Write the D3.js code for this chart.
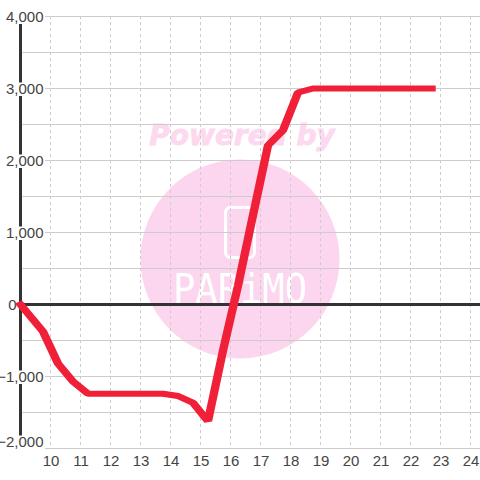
<!DOCTYPE html>
<html>
<head>
<meta charset="utf-8">
<script src="https://cdn.jsdelivr.net/npm/d3@7"></script>
<style>
html, body { margin: 0; padding: 0; background: #fff; }
svg { display: block; }
text { font-family: "Liberation Sans", sans-serif; }
</style>
</head>
<body>
<div id="chart"></div>
<script>
var hours = [9, 9.75, 10.25, 10.75, 11.25, 11.75, 12.25, 12.75, 13.25, 13.75, 14.25, 14.75, 15.25, 15.75, 16.25, 16.75, 17.25, 17.75, 18.25, 18.75, 19.25, 19.75, 20.25, 20.75, 21.25, 21.75, 22.25, 22.7];
var values = [0, -375, -820, -1070, -1240, -1240, -1240, -1240, -1240, -1240, -1270, -1365, -1620, -640, 260, 1240, 2210, 2420, 2945, 3000, 3000, 3000, 3000, 3000, 3000, 3000, 3000, 3000];
var xTicks = [10, 11, 12, 13, 14, 15, 16, 17, 18, 19, 20, 21, 22, 23, 24];
var yLabels = [4000, 3000, 2000, 1000, 0, -1000, -2000];
var yGrid = [4000, 3500, 3000, 2500, 2000, 1500, 1000, 500, -500, -1000, -1500, -2000];

var width = 480, height = 480;
// the line's stroke is wider across than it is tall in the picture
var stretch = 1.4;

var x = d3.scaleLinear().domain([10, 24]).range([50.5, 470.5]);
var y = d3.scaleLinear().domain([-2000, 4000]).range([448.5, 16.5]);

var svg = d3.select('#chart').append('svg')
  .attr('width', width)
  .attr('height', height);

// watermark sits under the grid
var mark = svg.append('g');
mark.append('circle')
  .attr('cx', 240).attr('cy', 259).attr('r', 99.5)
  .attr('fill', '#fcd5ee');
mark.append('text')
  .attr('x', 242).attr('y', 145)
  .attr('text-anchor', 'middle')
  .style('font-family', '"DejaVu Sans", sans-serif')
  .style('font-weight', 'bold')
  .style('font-style', 'italic')
  .style('font-size', '28px')
  .attr('fill', '#fcd9ef')
  .attr('stroke', '#fcd9ef')
  .attr('stroke-width', 0.8)
  .text('Powered by');
mark.append('rect')
  .attr('x', 225.5).attr('y', 207.5).attr('width', 29).attr('height', 50).attr('rx', 5)
  .attr('fill', 'none').attr('stroke', '#fff').attr('stroke-width', 3);
mark.append('text')
  .attr('x', 173).attr('y', 303)
  .attr('textLength', 134)
  .attr('lengthAdjust', 'spacingAndGlyphs')
  .style('font-family', '"DejaVu Sans Mono", monospace')
  .style('font-size', '40px')
  .attr('fill', '#fff')
  .text('PARiMO');

// grid
svg.append('g').selectAll('line')
  .data(xTicks)
  .enter()
  .append('line')
  .attr('x1', d => x(d)).attr('x2', d => x(d))
  .attr('y1', 16).attr('y2', 448)
  .attr('stroke', '#ccc')
  .attr('stroke-dasharray', '3,3');

svg.append('g').selectAll('line')
  .data(yGrid)
  .enter()
  .append('line')
  .attr('x1', 20).attr('x2', width)
  .attr('y1', d => y(d)).attr('y2', d => y(d))
  .attr('stroke', '#ccc');

// axis lines
svg.append('line')
  .attr('x1', 20.5).attr('x2', 20.5)
  .attr('y1', 16).attr('y2', 448)
  .attr('stroke', '#333').attr('stroke-width', 3);
svg.append('line')
  .attr('x1', 20).attr('x2', width)
  .attr('y1', y(0)).attr('y2', y(0))
  .attr('stroke', '#333').attr('stroke-width', 3);

// y labels have a white box behind them that cuts the axis
// bottom label gets pushed up so it stays above the x labels
var labelY = d => d === -2000 ? y(d) - 7 : y(d);

var yLab = svg.append('g').selectAll('g')
  .data(yLabels)
  .enter()
  .append('g');
yLab.filter(d => d !== 0).append('rect')
  .attr('x', 2)
  .attr('y', d => labelY(d) - 6)
  .attr('width', 43)
  .attr('height', 13.5)
  .attr('fill', '#fff');
yLab.append('text')
  .attr('x', d => d === 0 ? 16.5 : 43.5)
  .attr('y', d => labelY(d) + 5.5)
  .attr('text-anchor', 'end')
  .attr('fill', '#444')
  .style('font-size', '15px')
  .text(d => d3.format(',')(d));

svg.append('g').selectAll('text')
  .data(xTicks)
  .enter()
  .append('text')
  .attr('x', d => x(d) + 0.5)
  .attr('y', 466)
  .attr('text-anchor', 'middle')
  .attr('fill', '#444')
  .style('font-size', '15px')
  .text(d => d);

// the line
var line = d3.line()
  .x((d, i) => x(hours[i]) / stretch)
  .y(d => y(d));

svg.append('g')
  .attr('transform', `scale(${stretch},1)`)
  .append('path')
  .datum(values)
  .attr('d', line)
  .attr('fill', 'none')
  .attr('stroke', '#ef2037')
  .attr('stroke-width', 6)
  .attr('stroke-linecap', 'square')
  .attr('stroke-linejoin', 'bevel');
</script>
</body>
</html>
